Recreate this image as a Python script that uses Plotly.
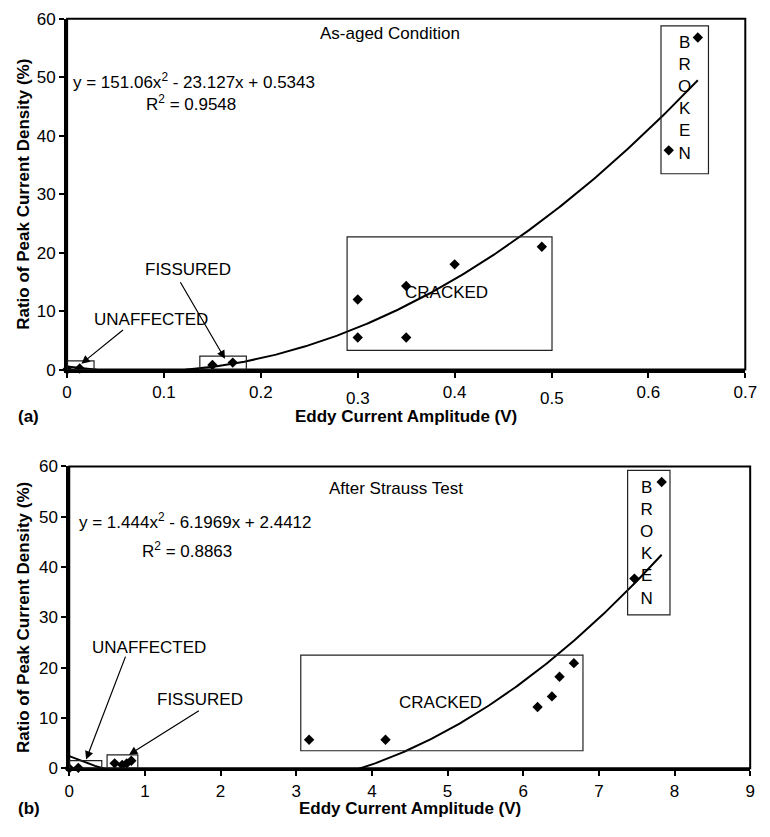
import numpy as np
import plotly.graph_objects as go

# ---------------- data (a) As-aged condition ----------------
a_x = [0.0, 0.013, 0.150, 0.171, 0.30, 0.30, 0.35, 0.35, 0.40, 0.49, 0.621, 0.651]
a_y = [0.0, 0.2, 0.8, 1.2, 12.0, 5.5, 14.3, 5.5, 18.0, 21.0, 37.5, 56.8]
a_coef = [151.06, -23.127, 0.5343]   # y = 151.06x^2 - 23.127x + 0.5343
a_fit_range = [0.0, 0.651]
a_xticks = [0, 0.1, 0.2, 0.3, 0.4, 0.5, 0.6, 0.7]
a_xticktext = ["0", "0.1", "0.2", "", "0.4", "", "0.6", "0.7"]
a_low_ticks = [0.3, 0.5]            # labels drawn slightly lower in the original
a_low_text = ["0.3", "0.5"]

# ---------------- data (b) After Strauss test ----------------
b_x = [0.0, 0.12, 0.60, 0.70, 0.76, 0.82, 3.17, 4.18, 6.19, 6.38, 6.48, 6.67, 7.47, 7.83]
b_y = [0.0, 0.1, 1.0, 0.7, 1.0, 1.5, 5.7, 5.7, 12.2, 14.3, 18.2, 20.9, 37.7, 56.9]
b_coef = [1.444, -6.1969, 2.4412]    # y = 1.444x^2 - 6.1969x + 2.4412
b_fit_range = [0.0, 7.83]
b_xticks = [0, 1, 2, 3, 4, 5, 6, 7, 8, 9]

y_ticks = [0, 10, 20, 30, 40, 50, 60]

FONT = "Liberation Sans, Arial, Helvetica, sans-serif"
FS = 17

a_fx = np.linspace(a_fit_range[0], a_fit_range[1], 300)
a_fy = np.polyval(a_coef, a_fx)
b_fx = np.linspace(b_fit_range[0], b_fit_range[1], 300)
b_fy = np.polyval(b_coef, b_fx)

fig = go.Figure()
fig.add_trace(go.Scatter(x=a_fx, y=a_fy, mode="lines", line=dict(color="black", width=2),
                         xaxis="x", yaxis="y", hoverinfo="skip"))
fig.add_trace(go.Scatter(x=a_x, y=a_y, mode="markers", cliponaxis=False,
                         marker=dict(symbol="diamond", size=8, color="black"),
                         xaxis="x", yaxis="y"))
fig.add_trace(go.Scatter(x=b_fx, y=b_fy, mode="lines", line=dict(color="black", width=2),
                         xaxis="x2", yaxis="y2", hoverinfo="skip"))
fig.add_trace(go.Scatter(x=b_x, y=b_y, mode="markers", cliponaxis=False,
                         marker=dict(symbol="diamond", size=8, color="black"),
                         xaxis="x2", yaxis="y2"))

W, H = 770, 837
def px_x(p): return p / W
def px_y(p): return (H - p) / H

axis_common = dict(showline=True, linewidth=3, linecolor="black", ticks="outside",
                   ticklen=5, tickwidth=1.5, tickcolor="black", showgrid=False,
                   zeroline=False, tickfont=dict(family=FONT, size=FS, color="black"))

fig.update_layout(
    width=W, height=H, margin=dict(l=0, r=0, t=0, b=0),
    paper_bgcolor="white", plot_bgcolor="white", showlegend=False,
    font=dict(family=FONT, size=FS, color="black"),
    xaxis=dict(domain=[px_x(63.5), px_x(757)], anchor="y", range=[0, 0.7],
               tickvals=a_xticks, ticktext=a_xticktext, **axis_common),
    yaxis=dict(domain=[px_y(369), px_y(10)], anchor="x", range=[0, 60],
               tickvals=y_ticks, **axis_common),
    xaxis2=dict(domain=[px_x(65.7), px_x(762)], anchor="y2", range=[0, 9],
                tickvals=b_xticks, **axis_common),
    yaxis2=dict(domain=[px_y(777), px_y(468)], anchor="x2", range=[0, 60],
                tickvals=y_ticks, **axis_common),
)

shapes = []
for xr, yr in [("x domain", "y domain"), ("x2 domain", "y2 domain")]:
    shapes.append(dict(type="rect", xref=xr, yref=yr, x0=0, x1=1, y0=0, y1=1,
                       line=dict(color="black", width=2), layer="above"))
box_line = dict(color="#222", width=1.2)
for x0, x1, y0, y1 in [(0.0, 0.0278, 0, 1.5), (0.137, 0.185, 0, 2.3),
                       (0.289, 0.5005, 3.3, 22.7), (0.613, 0.662, 33.5, 58.8)]:
    shapes.append(dict(type="rect", xref="x", yref="y", x0=x0, x1=x1, y0=y0, y1=y1, line=box_line))
for x0, x1, y0, y1 in [(0.0, 0.43, 0, 1.55), (0.5, 0.906, 0, 2.7),
                       (3.06, 6.79, 3.5, 22.5), (7.38, 7.94, 30.5, 59.2)]:
    shapes.append(dict(type="rect", xref="x2", yref="y2", x0=x0, x1=x1, y0=y0, y1=y1, line=box_line))
fig.update_layout(shapes=shapes)

ann = []
def txt(text, x, y, xref, yref, xanchor="center", yanchor="middle", bold=False, angle=0, align="center"):
    ann.append(dict(text=("<b>%s</b>" % text) if bold else text, x=x, y=y, xref=xref, yref=yref,
                    xanchor=xanchor, yanchor=yanchor, showarrow=False, textangle=angle, align=align,
                    font=dict(family=FONT, size=FS, color="black")))

def arrow(hx, hy, tx, ty, xref, yref):
    ann.append(dict(text="", x=hx, y=hy, ax=tx, ay=ty, xref=xref, yref=yref, axref=xref, ayref=yref,
                    showarrow=True, arrowhead=2, arrowsize=1.4, arrowwidth=1.2, arrowcolor="black"))

# panel (a)
txt("As-aged Condition", 0.2586, 57.4, "x", "y", xanchor="left")
txt("y = 151.06x<sup>2</sup> - 23.127x + 0.5343", 0.131, 49.4, "x", "y")
txt("R<sup>2</sup> = 0.9548", 0.128, 45.6, "x", "y")
txt("UNAFFECTED", 0.087, 8.5, "x", "y")
txt("FISSURED", 0.125, 17.1, "x", "y")
txt("CRACKED", 0.392, 13.2, "x", "y")
txt("B<br>R<br>O<br>K<br>E<br>N", 0.637, 46.4, "x", "y")
arrow(0.0147, 1.0, 0.0592, 7.0, "x", "y")
arrow(0.163, 1.84, 0.116, 15.2, "x", "y")
for v, t in zip(a_low_ticks, a_low_text):
    txt(t, v, px_y(399), "x", "paper")

# panel (b)
txt("After Strauss Test", 3.41, 55.7, "x2", "y2", xanchor="left")
txt("y = 1.444x<sup>2</sup> - 6.1969x + 2.4412", 1.673, 49.1, "x2", "y2")
txt("R<sup>2</sup> = 0.8863", 1.557, 43.4, "x2", "y2")
txt("UNAFFECTED", 1.048, 24.1, "x2", "y2")
txt("FISSURED", 1.73, 13.6, "x2", "y2")
txt("CRACKED", 4.91, 13.0, "x2", "y2")
txt("B<br>R<br>O<br>K<br>E<br>N", 7.63, 44.8, "x2", "y2")
arrow(0.223, 1.75, 0.751, 22.5, "x2", "y2")
arrow(0.79, 2.7, 1.733, 11.65, "x2", "y2")

# axis titles and panel labels
txt("Eddy Current Amplitude (V)", px_x(410), px_y(417), "paper", "paper", bold=True)
txt("Eddy Current Amplitude (V)", px_x(414), px_y(818), "paper", "paper", bold=True)
txt("Ratio of Peak Current Density (%)", px_x(19), px_y(189.5), "paper", "paper", bold=True, angle=-90)
txt("Ratio of Peak Current Density (%)", px_x(19), px_y(622.5), "paper", "paper", bold=True, angle=-90)
txt("(a)", px_x(11), px_y(417), "paper", "paper", xanchor="left", bold=True)
txt("(b)", px_x(11), px_y(818), "paper", "paper", xanchor="left", bold=True)

fig.update_layout(annotations=ann)
fig.write_html("out.html", config={"displayModeBar": False},
               post_script="document.body.style.margin='0';document.body.style.overflow='hidden';")
